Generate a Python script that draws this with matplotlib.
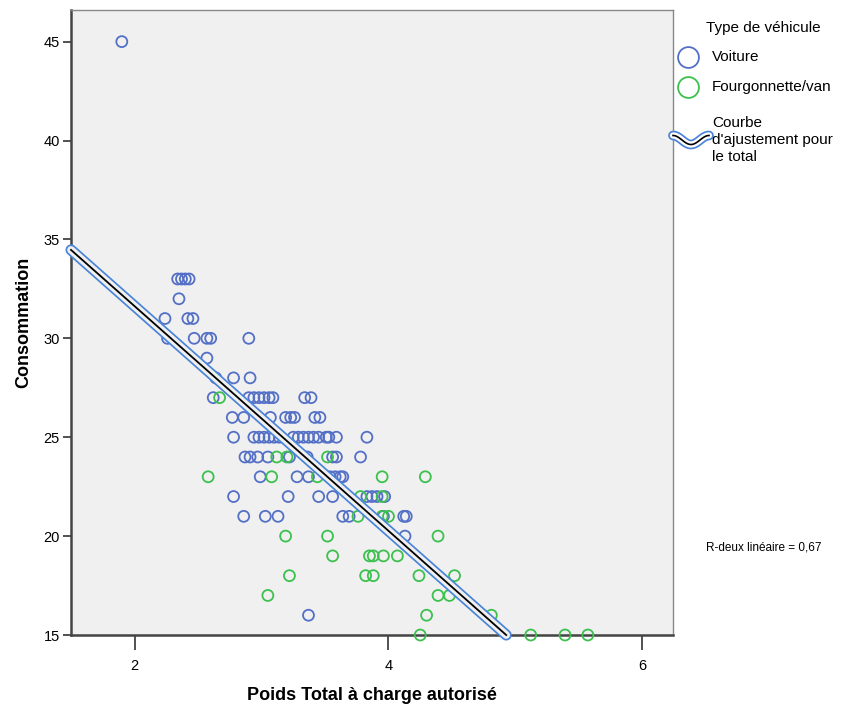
import numpy as np
import matplotlib
matplotlib.use("Agg")
import matplotlib.pyplot as plt
from matplotlib.lines import Line2D

plt.rcParams['font.family'] = ['Liberation Sans', 'DejaVu Sans']

# Voiture (cars): poids total, consommation
voiture_x = [1.90,
             2.34, 2.37, 2.40, 2.43,
             2.35,
             2.24, 2.42, 2.46,
             2.26, 2.47, 2.57, 2.60, 2.90,
             2.57,
             2.64, 2.78, 2.91,
             2.62, 2.90, 2.94, 2.98, 3.02, 3.06, 3.09, 3.34, 3.39,
             2.77, 2.86, 3.07, 3.19, 3.23, 3.26, 3.42, 3.46,
             2.78, 2.94, 2.98, 3.02, 3.06, 3.10, 3.14, 3.25, 3.29, 3.33, 3.37,
             3.41, 3.45, 3.51, 3.53, 3.59, 3.83,
             2.87, 2.91, 2.97, 3.05, 3.22, 3.36, 3.56, 3.59, 3.78,
             2.99, 3.28, 3.37, 3.54, 3.58, 3.62, 3.64,
             2.78, 3.21, 3.45, 3.56, 3.83, 3.87, 3.91, 3.97,
             2.86, 3.03, 3.13, 3.64, 3.69, 3.96, 4.12, 4.14,
             4.13,
             3.37]
voiture_y = [45,
             33, 33, 33, 33,
             32,
             31, 31, 31,
             30, 30, 30, 30, 30,
             29,
             28, 28, 28,
             27, 27, 27, 27, 27, 27, 27, 27, 27,
             26, 26, 26, 26, 26, 26, 26, 26,
             25, 25, 25, 25, 25, 25, 25, 25, 25, 25, 25,
             25, 25, 25, 25, 25, 25,
             24, 24, 24, 24, 24, 24, 24, 24, 24,
             23, 23, 23, 23, 23, 23, 23,
             22, 22, 22, 22, 22, 22, 22, 22,
             21, 21, 21, 21, 21, 21, 21, 21,
             20,
             16]

# Fourgonnette/van
van_x = [2.67,
         3.12, 3.20, 3.52,
         2.58, 3.08, 3.44, 3.95, 4.29,
         3.78, 3.95,
         3.76, 3.95, 4.00,
         3.19, 3.52, 4.39,
         3.56, 3.85, 3.88, 3.96, 4.07,
         3.22, 3.82, 3.88, 4.24, 4.52,
         3.05, 4.39, 4.48,
         4.30, 4.81,
         4.25, 5.12, 5.39, 5.57]
van_y = [27,
         24, 24, 24,
         23, 23, 23, 23, 23,
         22, 22,
         21, 21, 21,
         20, 20, 20,
         19, 19, 19, 19, 19,
         18, 18, 18, 18, 18,
         17, 17, 17,
         16, 16,
         15, 15, 15, 15]

r2_label = 'R-deux linéaire = 0,67'

blue = '#5470c6'
green = '#3cc04e'
fitblue = '#4a84d8'
bg = '#f0f0f0'

all_x = np.array(voiture_x + van_x)
all_y = np.array(voiture_y + van_y)
slope, inter = np.polyfit(all_x, all_y, 1)

fig = plt.figure(figsize=(8.67, 7.08), dpi=100)
ax = fig.add_axes([0.0819, 0.1031, 0.6943, 0.8828])
ax.set_facecolor(bg)

ax.scatter(voiture_x, voiture_y, s=62, facecolors='none', edgecolors=blue,
           linewidths=1.3, zorder=3, clip_on=False)
ax.scatter(van_x, van_y, s=62, facecolors='none', edgecolors=green,
           linewidths=1.3, zorder=3, clip_on=False)

# fit line, from left edge down to y=15
x0 = 1.5
x1 = (15 - inter) / slope
fx = np.array([x0, x1])
fy = inter + slope * fx
ax.plot(fx, fy, color=fitblue, lw=8, solid_capstyle='round', zorder=4, clip_on=False)
ax.plot(fx, fy, color=bg, lw=5.5, solid_capstyle='round', zorder=5, clip_on=False)
ax.plot(fx, fy, color='black', lw=1.3, zorder=6, clip_on=False)

ax.set_xlim(1.5, 6.24)
ax.set_ylim(15, 46.6)
ax.set_xticks([2, 4, 6])
ax.set_yticks([15, 20, 25, 30, 35, 40, 45])
ax.tick_params(axis='y', direction='out', length=6, width=1.2, color='#333333',
               labelsize=10.5, pad=2)
ax.tick_params(axis='x', direction='out', length=11, width=1.2, color='#333333',
               labelsize=10.5, pad=6)
for s in ['left', 'bottom']:
    ax.spines[s].set_color('#444444')
    ax.spines[s].set_linewidth(1.8)
for s in ['top', 'right']:
    ax.spines[s].set_color('#888888')
    ax.spines[s].set_linewidth(1.0)

ax.set_xlabel('Poids Total à charge autorisé', fontsize=13, fontweight='bold', labelpad=10)
ax.set_ylabel('Consommation', fontsize=13, fontweight='bold', labelpad=8)

# legend drawn by hand
W, H = 867, 708
def fxy(px, py):
    return px / W, 1 - py / H

fig.text(*fxy(706, 28), 'Type de véhicule', fontsize=11, va='center', ha='left')
for py, col, lab in [(57, blue, 'Voiture'), (87, green, 'Fourgonnette/van')]:
    fig.add_artist(Line2D([fxy(688, py)[0]], [fxy(688, py)[1]], marker='o', ms=15,
                          mfc='none', mec=col, mew=1.3, ls='none'))
    fig.text(*fxy(712, py), lab, fontsize=11, va='center', ha='left')
fig.text(*fxy(712, 140), "Courbe\nd'ajustement pour\nle total", fontsize=11,
         va='center', ha='left', linespacing=1.3)
t = np.linspace(0, 1, 60)
sx = 673 + 36 * t
sy = 140 + 4.5 * np.sin(2 * np.pi * t + np.pi / 2) * -1
qx = [fxy(a, b)[0] for a, b in zip(sx, sy)]
qy = [fxy(a, b)[1] for a, b in zip(sx, sy)]
fig.add_artist(Line2D(qx, qy, color=fitblue, lw=7, solid_capstyle='round'))
fig.add_artist(Line2D(qx, qy, color='white', lw=4.5, solid_capstyle='round'))
fig.add_artist(Line2D(qx, qy, color='black', lw=1.2))

fig.text(*fxy(706, 547), r2_label, fontsize=8.5, va='center', ha='left')

fig.savefig('out.png', dpi=100)
